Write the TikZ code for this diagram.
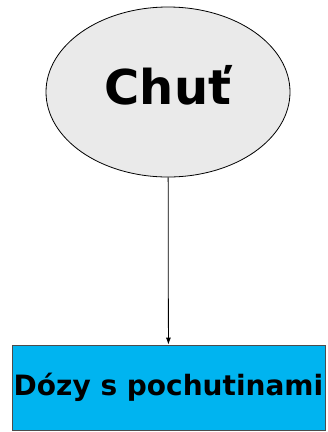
\documentclass[tikz,border=0pt]{standalone}
\usepackage{fontspec}
\setmainfont{DejaVu Sans}
\usetikzlibrary{shapes.geometric,arrows.meta}
\definecolor{boxblue}{RGB}{0,180,240}
\definecolor{ovalgray}{RGB}{234,234,234}
\tikzset{
  OvalStyle/.style = { ellipse, draw, fill = ovalgray, inner sep = 0pt,
                       line width = 0.8pt, text depth = 14pt,
                       minimum width = 244pt, minimum height = 170pt,
                       font = \bfseries\fontsize{48}{56}\selectfont },
  BoxStyle/.style = { rectangle, draw = black!70, fill = boxblue, inner sep = 0pt,
                      line width = 0.8pt,
                      minimum width = 313pt, minimum height = 85pt,
                      font = \bfseries\fontsize{28}{34}\selectfont },
  EdgeStyle/.style = { -{Latex[length=7pt,width=5pt]}, line width = 0.8pt } }

\begin{document}
\begin{tikzpicture}[x=1pt,y=1pt]
  \useasboundingbox (0,0) rectangle (328,-432);
  \node[OvalStyle] (chut) at (168,-92) {Chuť};
  \node[BoxStyle] (dozy) at (168.5,-387.5) {Dózy s pochutinami};

  \draw[EdgeStyle] (chut) -- (dozy);
\end{tikzpicture}
\end{document}
